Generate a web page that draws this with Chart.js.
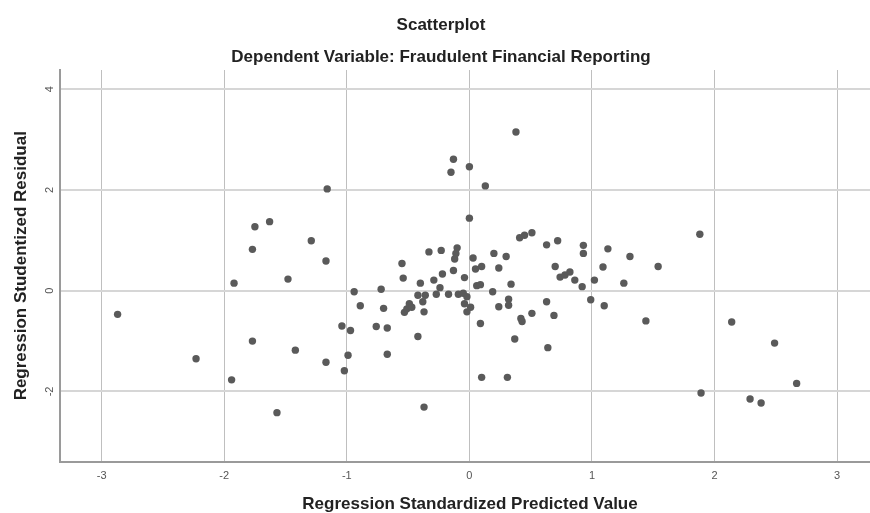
<!DOCTYPE html>
<html>
<head>
<meta charset="utf-8">
<script src="https://cdn.jsdelivr.net/npm/chart.js@4.4.1/dist/chart.umd.min.js"></script>
<style>
  html, body { margin: 0; padding: 0; background: #fff; overflow: hidden; }
  #wrap { width: 870px; height: 513px; overflow: hidden; }
</style>
</head>
<body>
<div id="wrap"><canvas id="scatterChart" width="884" height="513"></canvas></div>
<script>
// values
const predicted = [
  -2.87, -2.23, -1.94, -1.92, -1.77, -1.75, -1.63, -1.77, -1.57, -1.48,
  -1.42, -1.29, -1.17, -1.16, -1.17, -1.04, -1.02, -0.99, -0.97, -0.94,
  -0.89, -0.76, -0.72, -0.70, -0.67, -0.67, -0.55, -0.54, -0.53, -0.51,
  -0.49, -0.47, -0.42, -0.42, -0.40, -0.38, -0.37, -0.37, -0.36, -0.33,
  -0.29, -0.27, -0.23, -0.24, -0.22, -0.17, -0.15, -0.13, -0.13, -0.12,
  -0.11, -0.10, -0.09, -0.05, -0.02, -0.04, -0.02, 0.01, -0.04, 0.00,
  0.00, 0.03, 0.05, 0.10, 0.06, 0.09, 0.09, 0.10, 0.13, 0.19,
  0.20, 0.24, 0.24, 0.30, 0.32, 0.32, 0.31, 0.34, 0.37, 0.38,
  0.41, 0.45, 0.51, 0.42, 0.43, 0.51, 0.63, 0.72, 0.70, 0.63,
  0.69, 0.64, 0.74, 0.78, 0.82, 0.86, 0.92, 0.93, 0.93, 0.99,
  1.02, 1.09, 1.10, 1.13, 1.26, 1.31, 1.44, 1.54, 1.88, 1.89,
  2.14, 2.29, 2.38, 2.49, 2.67
];
const residual = [
  -0.47, -1.35, -1.77, 0.15, 0.82, 1.27, 1.37, -1.00, -2.42, 0.23,
  -1.18, 0.99, 0.59, 2.02, -1.42, -0.70, -1.59, -1.28, -0.79, -0.02,
  -0.30, -0.71, 0.03, -0.35, -0.74, -1.26, 0.54, 0.25, -0.43, -0.36,
  -0.26, -0.33, -0.91, -0.09, 0.15, -0.22, -0.42, -2.31, -0.09, 0.77,
  0.21, -0.07, 0.80, 0.06, 0.33, -0.07, 2.35, 2.61, 0.40, 0.63,
  0.74, 0.85, -0.07, -0.05, -0.12, -0.26, -0.42, -0.33, 0.26, 2.46,
  1.44, 0.65, 0.43, 0.48, 0.10, 0.12, -0.65, -1.72, 2.08, -0.02,
  0.74, 0.45, -0.32, 0.68, -0.17, -0.29, -1.72, 0.13, -0.96, 3.15,
  1.05, 1.10, 1.15, -0.55, -0.61, -0.45, 0.91, 0.99, 0.48, -0.22,
  -0.49, -1.13, 0.27, 0.31, 0.37, 0.21, 0.08, 0.90, 0.74, -0.18,
  0.21, 0.47, -0.30, 0.83, 0.15, 0.68, -0.60, 0.48, 1.12, -2.03,
  -0.62, -2.15, -2.23, -1.04, -1.84
];
const xTicks = [-3, -2, -1, 0, 1, 2, 3];
const yTicks = [-2, 0, 2, 4];

Chart.defaults.font.family = 'Arial, "Liberation Sans", sans-serif';

// SPSS draws the y tick labels turned on their side
const rotatedYTicks = {
  id: 'rotatedYTicks',
  afterDraw(chart) {
    const { ctx, scales: { y } } = chart;
    ctx.save();
    ctx.fillStyle = '#555';
    ctx.font = '11px Arial, "Liberation Sans", sans-serif';
    ctx.textAlign = 'center';
    ctx.textBaseline = 'middle';
    y.ticks.forEach(t => {
      ctx.save();
      ctx.translate(50, y.getPixelForValue(t.value));
      ctx.rotate(-Math.PI / 2);
      ctx.fillText(String(t.value), 0, 0);
      ctx.restore();
    });
    ctx.restore();
  }
};

const config = {
  type: 'scatter',
  data: {
    datasets: [{
      label: 'Residuals',
      data: predicted.map((x, i) => ({ x: x, y: residual[i] })),
      backgroundColor: '#5a5a5a',
      borderColor: '#5a5a5a',
      borderWidth: 0,
      pointRadius: 3.7
    }]
  },
  options: {
    responsive: false,
    animation: false,
    layout: { padding: { left: 0, right: 2, top: 0, bottom: 0 } },
    plugins: {
      legend: { display: false },
      tooltip: { enabled: false },
      title: {
        display: true,
        text: 'Scatterplot',
        color: '#222',
        font: { size: 17, weight: 'bold' },
        padding: { top: 14.8, bottom: 6 }
      },
      subtitle: {
        display: true,
        text: 'Dependent Variable: Fraudulent Financial Reporting',
        color: '#222',
        font: { size: 17, weight: 'bold' },
        padding: { top: 5.6, bottom: 2.8 }
      }
    },
    scales: {
      x: {
        type: 'linear',
        min: -3.34,
        max: 3.35,
        afterBuildTicks: s => { s.ticks = xTicks.map(v => ({ value: v })); },
        afterFit: s => { s.height = 51.5; },
        grid: { color: '#bfbfbf', lineWidth: 1, drawTicks: false },
        border: { display: true, color: '#9a9a9a', width: 2 },
        ticks: { color: '#555', font: { size: 11 }, padding: 8 },
        title: {
          display: true,
          text: 'Regression Standardized Predicted Value',
          color: '#222',
          font: { size: 17, weight: 'bold', lineHeight: 1 },
          padding: 0
        }
      },
      y: {
        type: 'linear',
        min: -3.39,
        max: 4.38,
        afterBuildTicks: s => { s.ticks = yTicks.map(v => ({ value: v })); },
        afterFit: s => { s.width = 60; },
        grid: { color: '#d6d6d6', lineWidth: 2, drawTicks: false },
        border: { display: true, color: '#9a9a9a', width: 2 },
        ticks: { display: false },
        title: {
          display: true,
          text: 'Regression Studentized Residual',
          color: '#222',
          font: { size: 17, weight: 'bold', lineHeight: 1 },
          padding: { top: 12.5, bottom: 0 }
        }
      }
    }
  },
  plugins: [rotatedYTicks]
};

const ctx = document.getElementById('scatterChart').getContext('2d');
const chart = new Chart(ctx, config);
</script>
</body>
</html>
